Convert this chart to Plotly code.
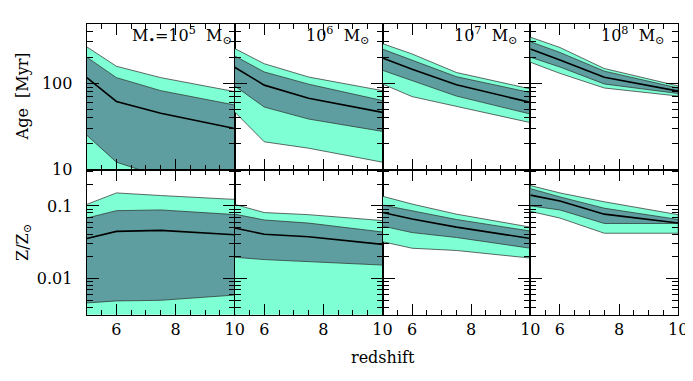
import plotly.graph_objects as go

# redshift sampling points
redshift = [5, 6, 7.5, 10]

# --- Age [Myr]: outer upper, inner upper, median, inner lower, outer lower ---
age_1e5_hi2 = [263, 157, 116, 80]
age_1e5_hi1 = [200, 116, 82, 56]
age_1e5_med = [116, 61.5, 45, 30]
age_1e5_lo1 = [25, 12.2, 8.3, 5.5]
age_1e5_lo2 = [3, 2, 1.5, 1]

age_1e6_hi2 = [252, 168, 118, 82]
age_1e6_hi1 = [207, 135, 97.5, 63]
age_1e6_med = [153, 95, 67, 46]
age_1e6_lo1 = [93, 53, 38.5, 27.7]
age_1e6_lo2 = [46.5, 21, 17.7, 12.2]

age_1e7_hi2 = [287, 218, 133, 86]
age_1e7_hi1 = [248, 186, 119, 78]
age_1e7_med = [196, 145, 96, 60]
age_1e7_lo1 = [141, 106, 71, 44]
age_1e7_lo2 = [98, 70, 54, 35]

age_1e8_hi2 = [341, 259, 148, 93]
age_1e8_hi1 = [302, 227, 138, 88]
age_1e8_med = [248, 186, 117, 81]
age_1e8_lo1 = [200, 154, 98, 76]
age_1e8_lo2 = [175, 130, 88, 71]

# --- Z/Zsun ---
met_1e5_hi2 = [0.105, 0.151, 0.139, 0.123]
met_1e5_hi1 = [0.068, 0.086, 0.088, 0.076]
met_1e5_med = [0.0356, 0.0446, 0.046, 0.040]
met_1e5_lo1 = [0.0046, 0.0049, 0.0050, 0.0059]
met_1e5_lo2 = [0.002, 0.002, 0.002, 0.002]

met_1e6_hi2 = [0.105, 0.081, 0.0757, 0.0628]
met_1e6_hi1 = [0.077, 0.064, 0.058, 0.0437]
met_1e6_med = [0.0496, 0.0407, 0.0375, 0.0295]
met_1e6_lo1 = [0.0196, 0.0182, 0.0173, 0.0153]
met_1e6_lo2 = [0.002, 0.002, 0.002, 0.002]

met_1e7_hi2 = [0.136, 0.106, 0.077, 0.051]
met_1e7_hi1 = [0.103, 0.0865, 0.065, 0.045]
met_1e7_med = [0.081, 0.066, 0.051, 0.0356]
met_1e7_lo1 = [0.0527, 0.0429, 0.0367, 0.0261]
met_1e7_lo2 = [0.0321, 0.0261, 0.0243, 0.0191]

met_1e8_hi2 = [0.191, 0.151, 0.114, 0.0757]
met_1e8_hi1 = [0.173, 0.133, 0.093, 0.065]
met_1e8_med = [0.141, 0.117, 0.077, 0.058]
met_1e8_lo1 = [0.1, 0.088, 0.0573, 0.0573]
met_1e8_lo2 = [0.084, 0.068, 0.042, 0.042]

panel_labels = [
    "M<sub>•</sub>=10<sup>5</sup>  M<sub>⊙</sub>",
    "10<sup>6</sup>  M<sub>⊙</sub>",
    "10<sup>7</sup>  M<sub>⊙</sub>",
    "10<sup>8</sup>  M<sub>⊙</sub>",
]

# tick layout: major x every 2 from 6, minor every 0.5; log y by decade
x_major = [6, 8, 10]
x_minor_step = 0.5

LIGHT = "#7FFFD4"   # aquamarine
DARK = "#5F9EA0"    # cadetblue
EDGE = "#2a2a2a"
FONT = "DejaVu Serif"

rows = [
    [
        (age_1e5_hi2, age_1e5_hi1, age_1e5_med, age_1e5_lo1, age_1e5_lo2),
        (age_1e6_hi2, age_1e6_hi1, age_1e6_med, age_1e6_lo1, age_1e6_lo2),
        (age_1e7_hi2, age_1e7_hi1, age_1e7_med, age_1e7_lo1, age_1e7_lo2),
        (age_1e8_hi2, age_1e8_hi1, age_1e8_med, age_1e8_lo1, age_1e8_lo2),
    ],
    [
        (met_1e5_hi2, met_1e5_hi1, met_1e5_med, met_1e5_lo1, met_1e5_lo2),
        (met_1e6_hi2, met_1e6_hi1, met_1e6_med, met_1e6_lo1, met_1e6_lo2),
        (met_1e7_hi2, met_1e7_hi1, met_1e7_med, met_1e7_lo1, met_1e7_lo2),
        (met_1e8_hi2, met_1e8_hi1, met_1e8_med, met_1e8_lo1, met_1e8_lo2),
    ],
]

W, H = 693, 381
left, right, top, bottom, mid = 80, 680, 16, 315, 166
pw = (right - left) / 4


def ax(letter, k):
    return letter if k == 1 else f"{letter}{k}"


tick_common = dict(ticks="inside", tickcolor="black",
                   showgrid=False, zeroline=False,
                   showline=True, linecolor="black", linewidth=1,
                   mirror="allticks",
                   tickfont=dict(size=16, family=FONT, color="black"))

fig = go.Figure()
layout = {}

for r, row in enumerate(rows):
    for c, (hi2, hi1, med, lo1, lo2) in enumerate(row):
        k = r * 4 + c + 1
        xa, ya = ax("x", k), ax("y", k)
        xs = redshift + redshift[::-1]

        fig.add_trace(go.Scatter(
            x=xs, y=hi2 + lo2[::-1], fill="toself", fillcolor=LIGHT,
            mode="lines", line=dict(color=EDGE, width=0.7),
            xaxis=xa, yaxis=ya, hoverinfo="skip", showlegend=False))
        fig.add_trace(go.Scatter(
            x=xs, y=hi1 + lo1[::-1], fill="toself", fillcolor=DARK,
            mode="lines", line=dict(color=EDGE, width=0.7),
            xaxis=xa, yaxis=ya, hoverinfo="skip", showlegend=False))
        fig.add_trace(go.Scatter(
            x=redshift, y=med, mode="lines",
            line=dict(color="black", width=1.6),
            xaxis=xa, yaxis=ya, hoverinfo="skip", showlegend=False))

        xd = [(left + c * pw) / W, (left + (c + 1) * pw) / W]
        if r == 0:
            yd = [1 - mid / H, 1 - top / H]
            yrange = [1, 2.69]
        else:
            yd = [1 - bottom / H, 1 - mid / H]
            yrange = [-2.5, -0.5]

        layout[f"xaxis{k}"] = dict(
            domain=xd, range=[5, 10], anchor=ya,
            tickmode="linear", tick0=x_major[0], dtick=x_major[1] - x_major[0],
            minor=dict(ticks="inside", ticklen=5, tickcolor="black",
                       dtick=x_minor_step),
            showticklabels=(r == 1), ticklen=11,
            **tick_common)
        layout[f"yaxis{k}"] = dict(
            domain=yd, type="log", range=yrange, anchor=xa, dtick=1,
            minor=dict(ticks="inside", ticklen=6, tickcolor="black"),
            showticklabels=(c == 0), ticklen=12, ticksuffix="  ",
            **tick_common)

fig.update_layout(**layout)

# mass labels in the top row
label_x = [0.995, 0.92, 0.92, 0.92]
for c, text in enumerate(panel_labels):
    fig.add_annotation(
        text=text, xref=ax("x", c + 1) + " domain", yref=ax("y", c + 1) + " domain",
        x=label_x[c], y=0.915, xanchor="right", yanchor="middle",
        showarrow=False, font=dict(size=16, color="black", family=FONT))

# axis titles
fig.add_annotation(text="Age  [Myr]", xref="paper", yref="paper",
                   x=15 / W, y=1 - (top + mid) / 2 / H, textangle=-90,
                   xanchor="center", yanchor="middle",
                   showarrow=False, font=dict(size=16, color="black", family=FONT))
fig.add_annotation(text="Z/Z<sub>⊙</sub>", xref="paper", yref="paper",
                   x=15 / W, y=1 - (mid + bottom) / 2 / H, textangle=-90,
                   xanchor="center", yanchor="middle",
                   showarrow=False, font=dict(size=16, color="black", family=FONT))
fig.add_annotation(text="redshift", xref="paper", yref="paper",
                   x=(left + right) / 2 / W, y=1 - 359 / H,
                   xanchor="center", yanchor="middle",
                   showarrow=False, font=dict(size=16, color="black", family=FONT))

fig.update_layout(
    width=W, height=H,
    margin=dict(l=0, r=0, t=0, b=0),
    paper_bgcolor="white", plot_bgcolor="white",
    font=dict(family=FONT, size=16, color="black"),
    showlegend=False,
)

fig.write_html("out.html")
